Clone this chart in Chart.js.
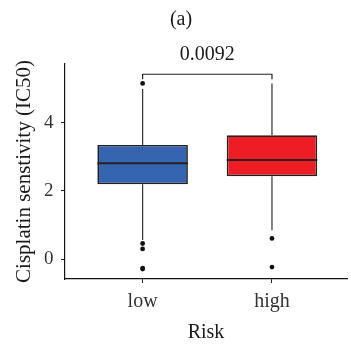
<!DOCTYPE html>
<html>
<head>
<meta charset="utf-8">
<script src="https://cdn.jsdelivr.net/npm/chart.js@4"></script>
<style>
  html, body { margin: 0; padding: 0; background: #fff; }
  canvas { display: block; }
</style>
</head>
<body>
<canvas id="chart" width="351" height="345"></canvas>
<script>
// Cisplatin IC50 by risk group: box summaries and outliers
const groups = ['low', 'high'];
const groupX = [1, 2];
const q1 = [2.20, 2.43];
const q3 = [3.35, 3.63];
const medians = [2.81, 2.91];
const whiskerLow = [0.56, 0.85];
const whiskerHigh = [4.99, 5.15];
const outliersLow = [5.15, 0.46, 0.30, -0.26, -0.29];
const outliersHigh = [0.61, -0.23];
const yTicks = [0, 2, 4];
const pValue = '0.0092';
const bracketTop = 5.42;
const bracketFoot = 5.27;
const boxColors = ['#3565B0', '#EE1D24'];

const FONT = 'Liberation Serif';

// whisker segments, separated by gaps
const whiskerPoints = [];
groupX.forEach((x, i) => {
  whiskerPoints.push({x, y: q3[i]}, {x, y: whiskerHigh[i]}, {x, y: null});
  whiskerPoints.push({x, y: q1[i]}, {x, y: whiskerLow[i]}, {x, y: null});
});

const outlierPoints = [
  ...outliersLow.map(y => ({x: groupX[0], y})),
  ...outliersHigh.map(y => ({x: groupX[1], y}))
];

const bracketPoints = [
  {x: groupX[0], y: bracketFoot},
  {x: groupX[0], y: bracketTop},
  {x: groupX[1], y: bracketTop},
  {x: groupX[1], y: bracketFoot}
];

// median bars, panel tag and p-value label
const boxExtras = {
  id: 'boxExtras',
  afterDatasetsDraw(chart) {
    const ctx = chart.ctx;
    const yScale = chart.scales.y;
    const xScale = chart.scales.x;
    const meta = chart.getDatasetMeta(2);
    ctx.save();
    ctx.strokeStyle = '#222';
    ctx.lineWidth = 2;
    meta.data.forEach((bar, i) => {
      const y = yScale.getPixelForValue(medians[i]);
      ctx.beginPath();
      ctx.moveTo(bar.x - bar.width / 2, y);
      ctx.lineTo(bar.x + bar.width / 2, y);
      ctx.stroke();
    });
    ctx.fillStyle = '#1a1a1a';
    ctx.font = '20px "' + FONT + '"';
    ctx.textAlign = 'center';
    ctx.textBaseline = 'alphabetic';
    const px = xScale.getPixelForValue((groupX[0] + groupX[1]) / 2);
    ctx.fillText(pValue, px, yScale.getPixelForValue(bracketTop) - 14);
    ctx.textBaseline = 'middle';
    ctx.fillText('(a)', 181, 20);
    ctx.restore();
  }
};

new Chart(document.getElementById('chart'), {
  data: {
    datasets: [
      {
        type: 'scatter',
        data: outlierPoints,
        pointRadius: 2.4,
        pointBackgroundColor: '#111',
        pointBorderWidth: 0,
        order: 0
      },
      {
        type: 'line',
        data: bracketPoints,
        borderColor: '#222',
        borderWidth: 1.2,
        pointRadius: 0,
        fill: false,
        order: 1
      },
      {
        type: 'bar',
        data: groupX.map((x, i) => ({x, y: [q1[i], q3[i]]})),
        backgroundColor: boxColors,
        borderColor: '#222',
        borderWidth: 1.7,
        borderSkipped: false,
        categoryPercentage: 1,
        barPercentage: 0.7,
        order: 2
      },
      {
        type: 'line',
        data: whiskerPoints,
        borderColor: '#333',
        borderWidth: 1.2,
        pointRadius: 0,
        spanGaps: false,
        fill: false,
        order: 3
      }
    ]
  },
  options: {
    responsive: false,
    animation: false,
    devicePixelRatio: 1,
    layout: { padding: { top: 64, left: 0, right: 0, bottom: 0 } },
    plugins: {
      legend: { display: false },
      tooltip: { enabled: false }
    },
    scales: {
      x: {
        type: 'linear',
        min: 0.4,
        max: 2.58,
        offset: false,
        afterBuildTicks: s => { s.ticks = groupX.map(v => ({value: v})); },
        afterFit: s => { s.height = 66; },
        ticks: {
          callback: v => groups[groupX.indexOf(v)],
          color: '#333',
          font: { family: FONT, size: 20 },
          padding: 7,
          maxRotation: 0
        },
        grid: { display: true, offset: false, drawOnChartArea: false, drawTicks: true, tickLength: 4, tickColor: '#222' },
        border: { display: true, color: '#111', width: 1.2 },
        title: {
          display: true,
          text: 'Risk',
          color: '#1a1a1a',
          font: { family: FONT, size: 20 },
          padding: { top: 0, bottom: 0 }
        }
      },
      y: {
        type: 'linear',
        min: -0.58,
        max: 5.72,
        afterBuildTicks: s => { s.ticks = yTicks.map(v => ({value: v})); },
        afterFit: s => { s.width = 65; },
        ticks: {
          color: '#333',
          font: { family: FONT, size: 19 },
          padding: 7.5
        },
        grid: { display: true, drawOnChartArea: false, drawTicks: true, tickLength: 4, tickColor: '#222' },
        border: { display: true, color: '#111', width: 1.2 },
        title: {
          display: true,
          text: 'Cisplatin senstivity (IC50)',
          color: '#1a1a1a',
          font: { family: FONT, size: 21 },
          padding: { top: 12, bottom: 0 }
        }
      }
    }
  },
  plugins: [boxExtras]
});
</script>
</body>
</html>
